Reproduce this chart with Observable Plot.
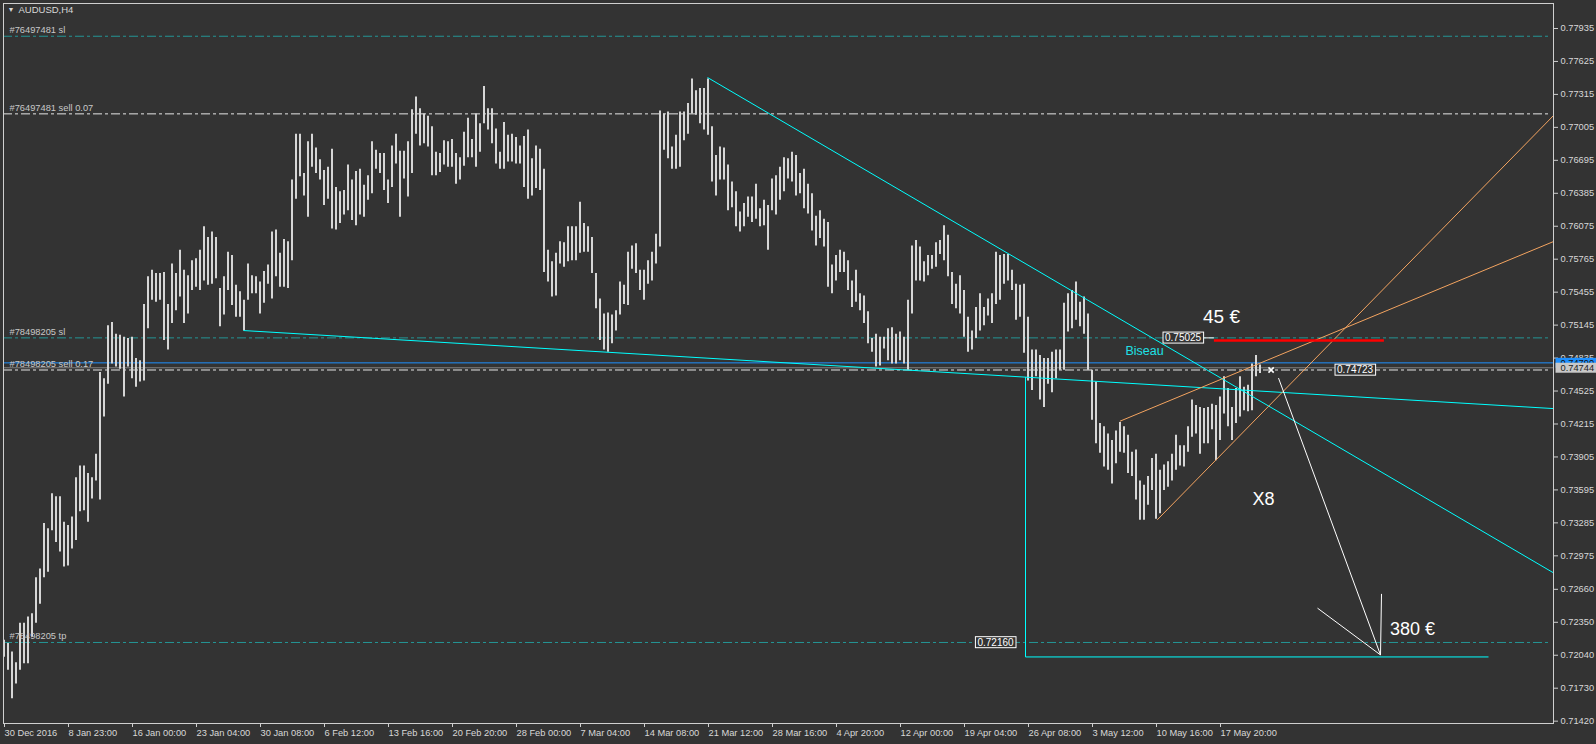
<!DOCTYPE html>
<html><head><meta charset="utf-8">
<script src="https://cdn.jsdelivr.net/npm/d3@7"></script>
<script src="https://cdn.jsdelivr.net/npm/@observablehq/plot@0.6"></script>
<style>
html,body{margin:0;padding:0;background:#333333;overflow:hidden;}
#chart{width:1596px;height:744px;}
</style></head><body><div id="chart"></div>
<script>
// AUDUSD H4 bars, two 4-hour bars per entry (price x 10 000)
const highs = [7218,7215,7207,7197,7234,7234,7240,7243,7277,7285,
7328,7323,7356,7353,7353,7329,7326,7334,7371,7382,
7382,7375,7371,7393,7470,7464,7514,7517,7506,7505,
7503,7502,7503,7483,7481,7534,7560,7566,7563,7563,
7564,7534,7572,7563,7585,7566,7561,7575,7577,7585,
7607,7597,7602,7597,7549,7560,7583,7580,7552,7546,
7538,7572,7561,7560,7555,7565,7571,7602,7604,7582,
7595,7593,7651,7694,7694,7657,7687,7694,7681,7670,
7660,7663,7680,7644,7640,7641,7665,7651,7659,7661,
7646,7655,7687,7679,7676,7676,7651,7683,7694,7678,
7678,7687,7717,7729,7718,7713,7711,7701,7677,7676,
7688,7687,7689,7676,7672,7696,7709,7689,7713,7704,
7739,7718,7718,7699,7677,7705,7693,7694,7691,7683,
7692,7698,7671,7683,7680,7661,7585,7574,7582,7593,
7592,7607,7607,7607,7630,7610,7607,7597,7563,7539,
7525,7526,7524,7528,7555,7552,7583,7589,7591,7566,
7566,7575,7583,7600,7716,7713,7715,7682,7693,7715,
7715,7723,7746,7735,7737,7737,7746,7701,7674,7682,
7681,7665,7649,7640,7621,7629,7635,7635,7647,7624,
7632,7627,7652,7655,7663,7672,7671,7677,7674,7657,
7661,7647,7638,7617,7622,7614,7611,7571,7580,7585,
7583,7575,7556,7566,7544,7542,7527,7502,7506,7503,
7503,7511,7512,7506,7508,7503,7538,7589,7594,7588,
7574,7580,7580,7592,7594,7608,7599,7564,7553,7561,
7547,7522,7509,7531,7544,7531,7539,7544,7583,7580,
7581,7581,7566,7553,7552,7553,7522,7491,7491,7486,
7483,7483,7489,7491,7491,7535,7544,7547,7555,7536,
7541,7525,7472,7461,7422,7419,7412,7406,7415,7423,
7419,7411,7395,7397,7368,7364,7372,7389,7393,7378,
7383,7386,7393,7411,7401,7401,7419,7444,7439,7437,
7436,7437,7440,7439,7447,7466,7455,7437,7455,7466,
7456,7458,7478,7486,7477];
const lows = [7202,7190,7163,7177,7190,7196,7196,7221,7234,7252,
7277,7282,7321,7310,7301,7287,7288,7304,7312,7339,
7340,7329,7351,7368,7350,7428,7459,7478,7475,7473,
7447,7475,7464,7456,7461,7462,7511,7538,7536,7538,
7500,7491,7516,7528,7541,7516,7525,7547,7550,7547,
7556,7552,7553,7558,7513,7524,7547,7533,7522,7522,
7509,7538,7544,7544,7525,7535,7553,7539,7560,7550,
7550,7549,7575,7633,7654,7636,7616,7663,7657,7651,
7627,7633,7605,7604,7610,7618,7622,7613,7608,7618,
7616,7632,7638,7661,7657,7641,7629,7644,7666,7616,
7652,7635,7657,7694,7683,7685,7682,7655,7655,7658,
7665,7663,7663,7647,7651,7664,7672,7672,7663,7677,
7704,7698,7685,7666,7661,7661,7668,7668,7666,7666,
7644,7633,7636,7643,7641,7564,7555,7541,7542,7572,
7569,7574,7575,7575,7582,7583,7583,7563,7530,7500,
7491,7489,7497,7509,7524,7534,7533,7567,7563,7547,
7538,7553,7556,7572,7588,7679,7671,7661,7661,7663,
7688,7694,7713,7712,7704,7698,7693,7649,7636,7651,
7651,7622,7625,7607,7602,7607,7616,7611,7614,7607,
7608,7585,7622,7618,7632,7640,7652,7649,7636,7638,
7624,7619,7603,7589,7596,7588,7550,7544,7556,7564,
7564,7547,7531,7536,7528,7516,7497,7489,7475,7476,
7492,7481,7478,7478,7481,7478,7472,7525,7556,7556,
7555,7561,7567,7569,7581,7575,7560,7534,7530,7525,
7503,7489,7491,7502,7509,7514,7523,7516,7534,7538,
7553,7556,7547,7519,7522,7488,7462,7453,7466,7444,
7437,7459,7451,7464,7472,7472,7508,7511,7519,7513,
7506,7472,7425,7403,7394,7381,7378,7365,7384,7395,
7394,7375,7372,7350,7331,7331,7345,7359,7332,7337,
7359,7362,7368,7378,7382,7381,7395,7409,7412,7393,
7403,7403,7416,7387,7406,7431,7419,7406,7422,7428,
7434,7433,7434,7466,7469];

// time axis: one label every 32 bars
const timeLabels = ["30 Dec 2016","8 Jan 23:00","16 Jan 00:00","23 Jan 04:00","30 Jan 08:00","6 Feb 12:00","13 Feb 16:00","20 Feb 20:00","28 Feb 00:00","7 Mar 04:00","14 Mar 08:00","21 Mar 12:00","28 Mar 16:00","4 Apr 20:00","12 Apr 00:00","19 Apr 04:00","26 Apr 08:00","3 May 12:00","10 May 16:00","17 May 20:00"];
const priceTicks = [0.77935,0.77625,0.77315,0.77005,0.76695,0.76385,0.76075,0.75765,0.75455,0.75145,0.74835,0.74525,0.74215,0.73905,0.73595,0.73285,0.72975,0.72660,0.72350,0.72040,0.71730,0.71420];

// order levels
const orderLabels = ["#76497481 sl","#76497481 sell 0.07","#78498205 sl","#78498205 sell 0.17","#78498205 tp"];
const orderPrices = [0.77862,0.77132,0.75025,0.74723,0.72160];
const orderTypes = ["sl","sell","sl","sell","tp"];
const bidPrice = 0.74744;
const bluePrice = 0.74790;

// drawn objects: [bar1, price1, bar2, price2]
const cyanLines = [[352,0.77474,775,0.72815],[120,0.75094,775,0.74360],[511,0.74656,511,0.72024],[511,0.72024,742.5,0.72024]];
const orangeLines = [[558.2,0.74241,775,0.75931],[576.9,0.73314,775,0.77116]];
const redLines = [[605.2,0.75000,690.2,0.75000]];
const whiteLines = [[600.2,0.75025,605.2,0.75025],[637.5,0.74647,688.5,0.72043],[688.5,0.72043,657,0.72483],[688.5,0.72043,689,0.72617]];
const closeMark = [[633.8,0.74723]];

const noteTexts = ["45 €","Biseau","X8","380 €"];
const noteBars = [609,570.5,630,704.5];
const notePrices = [0.75221,0.74906,0.73505,0.72287];
const noteColors = ["#ffffff","#1ee0e6","#ffffff","#ffffff"];
const noteSizes = [19,12.5,18,18];

const boxTexts = ["0.75025","0.74723","0.72160"];
const boxBars = [589.8,675.8,496];
const boxPrices = [0.75025,0.74723,0.72160];

const K = 1e4;
const bars = highs.map((h,i)=>({k: 2*i+0.5, high: h/K, low: lows[i]/K}));
const orders = orderLabels.map((t,i)=>({t, p: orderPrices[i], type: orderTypes[i]}));
const seg = a => a.map(d=>({x1:d[0],y1:d[1],x2:d[2],y2:d[3]}));
const notes = noteTexts.map((t,i)=>({t,k:noteBars[i],p:notePrices[i],c:noteColors[i],s:noteSizes[i]}));
const boxes = boxTexts.map((t,i)=>({t,k:boxBars[i],p:boxPrices[i]}));
const xTicks = timeLabels.map((_,i)=>i*32);
const font = "'Liberation Sans', Arial, sans-serif";

const chart = Plot.plot({
  width: 1596, height: 744,
  marginLeft: 3, marginRight: 43, marginTop: 3, marginBottom: 21,
  style: {background:"#333333", color:"#d8d8d8", fontFamily: font, fontSize:"9px"},
  x: {type:"linear", domain:[0,775], axis:null},
  y: {domain:[0.71398,0.78170], axis:null},
  color: {type:"identity"},
  marks: [
    Plot.ruleY(orders.filter(d=>d.type!=="sell"), {y:"p", x1:0, x2:772.5, stroke:"#249696", strokeDasharray:"9,3,3,3"}),
    Plot.ruleY(orders.filter(d=>d.type==="sell"), {y:"p", x1:0, x2:772.5, stroke:"#e6e6e6", strokeDasharray:"9,3,3,3"}),
    Plot.ruleY([bidPrice], {stroke:"#808080"}),
    Plot.ruleY([bluePrice], {stroke:"#1e90ff"}),
    Plot.ruleX(bars, {x:"k", y1:"low", y2:"high", stroke:"#d6d6d6", strokeWidth:2, dx:-0.5}),
    Plot.link(seg(cyanLines), {x1:"x1",y1:"y1",x2:"x2",y2:"y2", stroke:"#00ffff", clip:true}),
    Plot.link(seg(orangeLines), {x1:"x1",y1:"y1",x2:"x2",y2:"y2", stroke:"#f4a460", clip:true}),
    Plot.link(seg(redLines), {x1:"x1",y1:"y1",x2:"x2",y2:"y2", stroke:"#ff0000", strokeWidth:2.5}),
    Plot.link(seg(whiteLines), {x1:"x1",y1:"y1",x2:"x2",y2:"y2", stroke:"#ffffff"}),
    Plot.dot(closeMark, {x:d=>d[0], y:d=>d[1], symbol:"times", r:2.5, stroke:"#ffffff", strokeWidth:1.6}),
    Plot.text(orders, {y:"p", text:"t", frameAnchor:"left", dx:6, dy:-6, textAnchor:"start", fill:"#c8c8c8", fontSize:9.3}),
    Plot.text(notes, {x:"k", y:"p", text:"t", fill:"c", fontSize:"s"}),
    Plot.text(boxes, {x:"k", y:"p", text:"t", fill:"#ffffff", fontSize:10, className:"pbox"}),
    Plot.text(["AUDUSD,H4"], {frameAnchor:"top-left", dx:15, dy:3, fill:"#d8d8d8", fontSize:9.5, lineAnchor:"top"}),
    Plot.text(["▼"], {frameAnchor:"top-left", dx:4, dy:4, fill:"#d8d8d8", fontSize:7, lineAnchor:"top"}),
    Plot.frame({stroke:"#cfcfcf"}),
    Plot.axisY({anchor:"right", ticks:priceTicks, tickSize:4, tickPadding:3, tickFormat:d3.format(".5f"), fontSize:9.3, fill:"#d8d8d8", stroke:"#cfcfcf"}),
    Plot.axisX({anchor:"bottom", ticks:xTicks, tickSize:4, tickPadding:2, tickFormat:(d,i)=>timeLabels[i], textAnchor:"start", dx:1, fontSize:9.3, fill:"#d8d8d8", stroke:"#cfcfcf"}),
    Plot.text([bluePrice], {x:775, y:d=>d, text:d=>d3.format(".5f")(d), dx:7, textAnchor:"start", fill:"#111", fontSize:9.3, className:"bluebox"}),
    Plot.text([bidPrice], {x:775, y:d=>d, text:d=>d3.format(".5f")(d), dx:7, textAnchor:"start", fill:"#222", fontSize:9.3, className:"bidbox"})
  ]
});
document.getElementById("chart").append(chart);

const NS = "http://www.w3.org/2000/svg";
function boxify(sel, fill, stroke, padX, padY, extendRight) {
  chart.querySelectorAll(sel + " text").forEach(t => {
    const b = t.getBBox();
    const r = document.createElementNS(NS, "rect");
    r.setAttribute("x", b.x - padX);
    r.setAttribute("y", b.y - padY);
    r.setAttribute("width", b.width + padX * 2 + (extendRight || 0));
    r.setAttribute("height", b.height + padY * 2);
    r.setAttribute("fill", fill);
    if (stroke) r.setAttribute("stroke", stroke);
    const tr = t.getAttribute("transform");
    if (tr) r.setAttribute("transform", tr);
    t.parentNode.insertBefore(r, t);
  });
}
boxify("g.pbox", "#333333", "#ffffff", 2, 0, 0);
boxify("g.bluebox", "#1e90ff", null, 5, 0, 10);
boxify("g.bidbox", "#c8c8c8", null, 5, 0, 10);
</script></body></html>
